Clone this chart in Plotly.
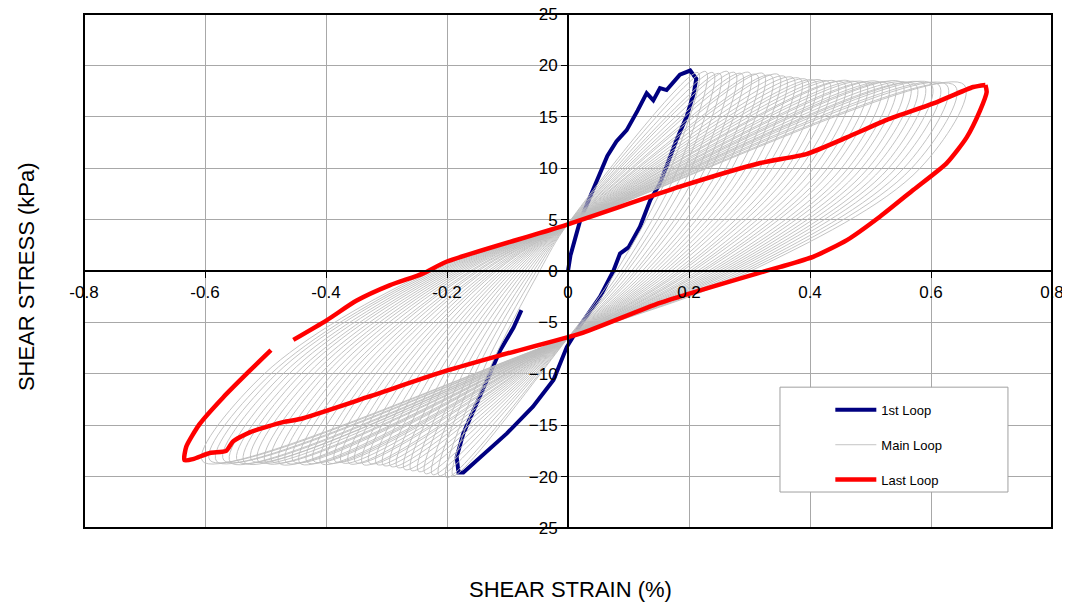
''' cyclic shear test: stress-strain hysteresis loops '''

import plotly.graph_objects as go

# 1st loop
first_x = [0, 0.004, 0.012, 0.02, 0.04, 0.065, 0.08, 0.097, 0.115, 0.130, 0.141, 0.152, 0.163,
           0.185, 0.202, 0.210, 0.212, 0.208, 0.196, 0.179, 0.166, 0.152, 0.136, 0.119, 0.100,
           0.086, 0.075, 0.053, 0.020, -0.002, -0.024, -0.058, -0.101, -0.146, -0.173, -0.181,
           -0.184, -0.173, -0.151, -0.129, -0.112, -0.090, -0.077]
first_y = [0, 1.5, 3.2, 4.9, 7.7, 11.2, 12.6, 13.7, 15.6, 17.3, 16.6, 17.8, 17.6,
           19.1, 19.5, 18.9, 18.7, 17.3, 15.0, 12.7, 10.8, 8.5, 6.9, 4.3, 2.3,
           1.7, 0, -2.5, -5.3, -7.4, -10.6, -13.2, -15.8, -18.1, -19.6, -19.6,
           -18.1, -15.8, -12.9, -10.0, -7.7, -5.5, -3.8]

# last loop (gap in the record near -0.47 %)
last_x = [0.690, 0.692, 0.681, 0.659, 0.626, 0.571, 0.516, 0.461, 0.406, 0.351, 0.312, 0.152,
          0.020, -0.112, -0.201, -0.333, -0.443, -0.471, -0.526, -0.554, -0.565, -0.592, -0.620,
          -0.634, -0.631, -0.609, -0.570, -0.526, -0.491, None, -0.454, -0.399, -0.350, -0.295,
          -0.240, -0.201, -0.013, 0.185, 0.318, 0.395, 0.461, 0.527, 0.604, 0.670, 0.690]
last_y = [18.1, 17.4, 15.6, 13.0, 10.5, 7.9, 5.3, 3.0, 1.4, 0.4, -0.25, -3.1,
          -6.1, -8.2, -9.7, -12.3, -14.4, -14.7, -15.7, -16.6, -17.5, -17.7, -18.3,
          -18.4, -17.1, -14.9, -12.3, -9.7, -7.7, None, -6.7, -4.8, -2.9, -1.4,
          -0.25, 0.9, 4.3, 8.2, 10.5, 11.4, 13.0, 14.7, 16.3, 17.9, 18.1]

# main loops: turning points and branch crossings of each cycle
main_pos_strain = [0.215, 0.228, 0.240, 0.251, 0.264, 0.276, 0.287, 0.300, 0.312, 0.323,
                   0.336, 0.348, 0.359, 0.372, 0.384, 0.395, 0.408, 0.420, 0.431, 0.444,
                   0.456, 0.467, 0.480, 0.492, 0.503, 0.516, 0.528, 0.539, 0.552, 0.564,
                   0.575, 0.588, 0.600, 0.613, 0.626, 0.640, 0.655]
main_pos_stress = [19.3, 19.4, 19.3, 19.2, 19.4, 19.3, 19.2, 19.3, 19.1, 19.2,
                   19.0, 19.1, 18.9, 18.8, 18.7, 18.6, 18.5, 18.5, 18.4, 18.4,
                   18.3, 18.4, 18.3, 18.3, 18.2, 18.3, 18.2, 18.2, 18.3, 18.2,
                   18.1, 18.2, 18.2, 18.1, 18.1, 18.0, 18.1]
main_knee_down = [0.170, 0.182, 0.193, 0.204, 0.216, 0.227, 0.237, 0.250, 0.261, 0.271,
                  0.283, 0.294, 0.305, 0.317, 0.328, 0.338, 0.351, 0.362, 0.372, 0.384,
                  0.395, 0.406, 0.418, 0.429, 0.439, 0.452, 0.463, 0.473, 0.485, 0.496,
                  0.507, 0.519, 0.530, 0.542, 0.555, 0.568, 0.582]
main_zero_down = [0.080, 0.087, 0.093, 0.098, 0.105, 0.111, 0.116, 0.123, 0.129, 0.135,
                  0.141, 0.147, 0.153, 0.159, 0.165, 0.171, 0.178, 0.184, 0.189, 0.196,
                  0.202, 0.207, 0.214, 0.220, 0.225, 0.232, 0.238, 0.244, 0.250, 0.256,
                  0.262, 0.268, 0.274, 0.281, 0.288, 0.295, 0.302]
main_neg_strain = [-0.190, -0.201, -0.213, -0.224, -0.236, -0.247, -0.259, -0.270, -0.282, -0.293,
                   -0.305, -0.316, -0.328, -0.339, -0.351, -0.362, -0.374, -0.385, -0.397, -0.408,
                   -0.420, -0.431, -0.443, -0.454, -0.466, -0.477, -0.489, -0.500, -0.512, -0.523,
                   -0.535, -0.546, -0.558, -0.569, -0.581, -0.592, -0.604]
main_neg_stress = [-19.9, -20.1, -19.9, -19.8, -19.7, -19.5, -19.4, -19.3, -19.1, -19.0,
                   -18.9, -18.8, -18.7, -18.8, -18.6, -18.7, -18.6, -18.5, -18.6, -18.7,
                   -18.5, -18.6, -18.7, -18.5, -18.6, -18.7, -18.5, -18.6, -18.5, -18.4,
                   -18.6, -18.5, -18.6, -18.4, -18.5, -18.4, -18.5]
main_knee_up = [-0.133, -0.143, -0.154, -0.163, -0.174, -0.184, -0.195, -0.204, -0.215, -0.225,
                -0.236, -0.245, -0.256, -0.266, -0.277, -0.286, -0.297, -0.307, -0.318, -0.327,
                -0.338, -0.348, -0.359, -0.368, -0.379, -0.389, -0.400, -0.409, -0.420, -0.430,
                -0.441, -0.450, -0.461, -0.471, -0.482, -0.491, -0.502]
main_zero_up = [-0.047, -0.052, -0.057, -0.062, -0.067, -0.072, -0.077, -0.082, -0.087, -0.092,
                -0.097, -0.102, -0.107, -0.112, -0.118, -0.122, -0.127, -0.132, -0.138, -0.142,
                -0.148, -0.152, -0.158, -0.162, -0.168, -0.173, -0.178, -0.183, -0.188, -0.193,
                -0.198, -0.203, -0.208, -0.213, -0.218, -0.223, -0.228]
knee_stress = 10.0          # stress level of the knee points
pivot_up = 4.6              # all loading branches pass near (0, 4.6)
pivot_down = -6.5           # all unloading branches pass near (0, -6.5)

x_ticks = [-0.8, -0.6, -0.4, -0.2, 0, 0.2, 0.4, 0.6, 0.8]
x_labels = ['-0.8', '-0.6', '-0.4', '-0.2', '0', '0.2', '0.4', '0.6', '0.8']
y_ticks = [-25, -20, -15, -10, -5, 0, 5, 10, 15, 20, 25]

assert len(set(map(len, [main_pos_strain, main_pos_stress, main_knee_down, main_zero_down,
                         main_neg_strain, main_neg_stress, main_knee_up, main_zero_up]))) == 1

gx, gy = [], []
for xp, yp, xkd, xzd, xn, yn, xku, xzu in zip(main_pos_strain, main_pos_stress, main_knee_down,
                                             main_zero_down, main_neg_strain, main_neg_stress,
                                             main_knee_up, main_zero_up):
    gx += [xn, xku, xzu, 0, xp, xkd, xzd, 0, xn, None]
    gy += [yn, -knee_stress, 0, pivot_up, yp, knee_stress, 0, pivot_down, yn, None]

fig = go.Figure()
fig.add_trace(go.Scatter(x = first_x, y = first_y, mode = 'lines', name = '1st Loop',
                         line = dict(color = '#000080', width = 4), legendgroup = 'a'))
fig.add_trace(go.Scatter(x = gx, y = gy, mode = 'lines', name = 'Main Loop',
                         line = dict(color = '#bcbcbc', width = 0.9, shape = 'spline', smoothing = 1),
                         legendgroup = 'b'))
fig.add_trace(go.Scatter(x = last_x, y = last_y, mode = 'lines', name = 'Last Loop',
                         line = dict(color = '#ff0000', width = 4.5, shape = 'spline', smoothing = 0.6),
                         legendgroup = 'c'))

tick_font = dict(family = 'Liberation Sans, Arial', size = 17, color = 'black')
fig.update_xaxes(range = [-0.8, 0.8], tickvals = x_ticks, ticktext = x_labels, automargin = False,
                 anchor = 'free', position = 0.5, showline = True, linecolor = 'black', linewidth = 2,
                 ticks = 'outside', ticklen = 6, tickcolor = 'black', zeroline = False,
                 ticklabeloverflow = 'allow',
                 showgrid = True, gridcolor = '#a8a8a8', gridwidth = 1, tickfont = tick_font)
fig.update_yaxes(range = [-25, 25], tickvals = y_ticks, automargin = False,
                 anchor = 'free', position = 0.5, showline = True, linecolor = 'black', linewidth = 2,
                 ticks = 'outside', ticklen = 6, tickcolor = 'black', zeroline = False,
                 ticklabeloverflow = 'allow',
                 showgrid = True, gridcolor = '#a8a8a8', gridwidth = 1, tickfont = tick_font)

# plot frame and legend box
fig.add_shape(type = 'rect', xref = 'paper', yref = 'paper', x0 = 0, x1 = 1, y0 = 0, y1 = 1,
              line = dict(color = 'black', width = 2), layer = 'above')
fig.add_shape(type = 'rect', xref = 'paper', yref = 'paper', x0 = 0.719, x1 = 0.9545,
              y0 = 0.070, y1 = 0.274, line = dict(color = '#a0a0a0', width = 1),
              fillcolor = 'white', layer = 'above')

title_font = dict(family = 'Liberation Sans, Arial', size = 22, color = 'black')
fig.add_annotation(text = 'SHEAR STRAIN (%)', xref = 'paper', yref = 'paper', x = 0.503, y = -0.12,
                   showarrow = False, font = title_font, yanchor = 'middle')
fig.add_annotation(text = 'SHEAR STRESS (kPa)', xref = 'paper', yref = 'paper', x = -0.06, y = 0.49,
                   showarrow = False, font = title_font, textangle = -90, xanchor = 'center')

# the page body adds an 8 px offset, so the margins are shifted to keep the plot in place
fig.update_layout(width = 1070, height = 605, autosize = False,
                  margin = dict(l = 76, r = 26, t = 6, b = 85, autoexpand = False),
                  paper_bgcolor = 'white', plot_bgcolor = 'white',
                  legend = dict(x = 0.771, y = 0.259, xanchor = 'left', yanchor = 'top',
                                bgcolor = 'rgba(0,0,0,0)', borderwidth = 0, itemwidth = 41,
                                traceorder = 'grouped', tracegroupgap = 15,
                                font = dict(family = 'Liberation Sans, Arial', size = 13, color = 'black')))

fig.write_html("out.html")
